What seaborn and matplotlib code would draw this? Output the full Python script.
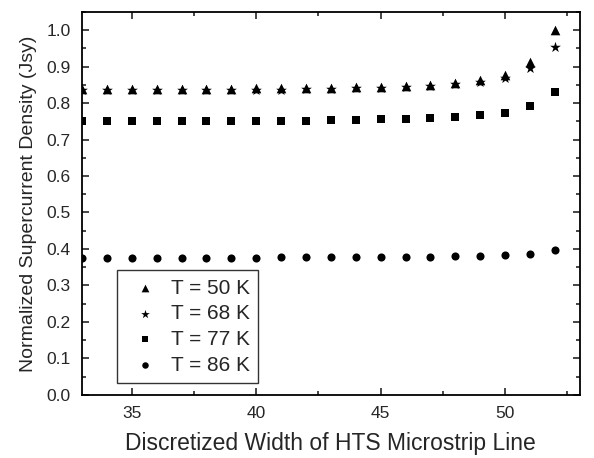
import matplotlib
matplotlib.use("Agg")
import matplotlib.pyplot as plt
from matplotlib.ticker import MultipleLocator
import seaborn as sns
import pandas as pd

# discretized width positions
width = list(range(33, 53))

t50 = [0.838, 0.838, 0.838, 0.838, 0.838, 0.839, 0.839, 0.840, 0.840, 0.841,
       0.842, 0.843, 0.845, 0.847, 0.850, 0.855, 0.862, 0.877, 0.912, 1.000]
t68 = [0.835, 0.835, 0.835, 0.835, 0.835, 0.836, 0.836, 0.837, 0.837, 0.838,
       0.839, 0.840, 0.842, 0.844, 0.847, 0.851, 0.858, 0.870, 0.895, 0.955]
t77 = [0.750, 0.750, 0.750, 0.750, 0.750, 0.750, 0.751, 0.751, 0.751, 0.752,
       0.753, 0.754, 0.755, 0.757, 0.759, 0.762, 0.766, 0.774, 0.791, 0.829]
t86 = [0.376, 0.376, 0.376, 0.376, 0.376, 0.376, 0.376, 0.376, 0.377, 0.377,
       0.377, 0.377, 0.378, 0.378, 0.379, 0.380, 0.381, 0.384, 0.387, 0.398]

labels = ["T = 50 K", "T = 68 K", "T = 77 K", "T = 86 K"]
series = [t50, t68, t77, t86]

rows = []
for lab, vals in zip(labels, series):
    for w, v in zip(width, vals):
        rows.append({"Width": w, "J": v, "T": lab})
df = pd.DataFrame(rows)

sns.set_style("ticks")
plt.rcParams["font.family"] = ["Liberation Sans", "DejaVu Sans"]

fig = plt.figure(figsize=(5.94, 4.58), dpi=100)
ax = fig.add_axes([0.138, 0.138, 0.838, 0.836])

markers = {"T = 50 K": "^", "T = 68 K": "*", "T = 77 K": "s", "T = 86 K": "o"}
sizes = {"T = 50 K": 48, "T = 68 K": 66, "T = 77 K": 27, "T = 86 K": 34}
for lab in labels:
    sub = df[df["T"] == lab]
    sns.scatterplot(data=sub, x="Width", y="J", marker=markers[lab], s=sizes[lab],
                    color="black", edgecolor="black", linewidth=0, ax=ax,
                    label=lab)

ax.set_xlim(33, 53)
ax.set_ylim(0, 1.05)
ax.xaxis.set_major_locator(MultipleLocator(5))
ax.xaxis.set_minor_locator(MultipleLocator(2.5))
ax.yaxis.set_major_locator(MultipleLocator(0.1))
ax.yaxis.set_minor_locator(MultipleLocator(0.05))
ax.tick_params(which="both", direction="in", top=True, right=True,
               labelsize=12.5, width=1.2)
ax.tick_params(axis="x", which="major", pad=8)
ax.tick_params(axis="y", which="major", pad=8)
ax.tick_params(which="major", length=5)
ax.tick_params(which="minor", length=3)
for sp in ax.spines.values():
    sp.set_linewidth(1.3)
    sp.set_color("black")

ax.set_xlabel("Discretized Width of HTS Microstrip Line", fontsize=16.5, labelpad=8)
ax.set_ylabel("Normalized Supercurrent Density (Jsy)", fontsize=14, labelpad=7)

leg = ax.legend(loc="lower left", bbox_to_anchor=(0.07, 0.031), fontsize=15,
                frameon=True, fancybox=False, edgecolor="black",
                markerscale=0.8, handletextpad=0.3, borderpad=0.4,
                labelspacing=0.32, handlelength=1.9, borderaxespad=0.0)
leg.get_frame().set_linewidth(1.0)

fig.savefig("out.png", dpi=100)
plt.close(fig)
